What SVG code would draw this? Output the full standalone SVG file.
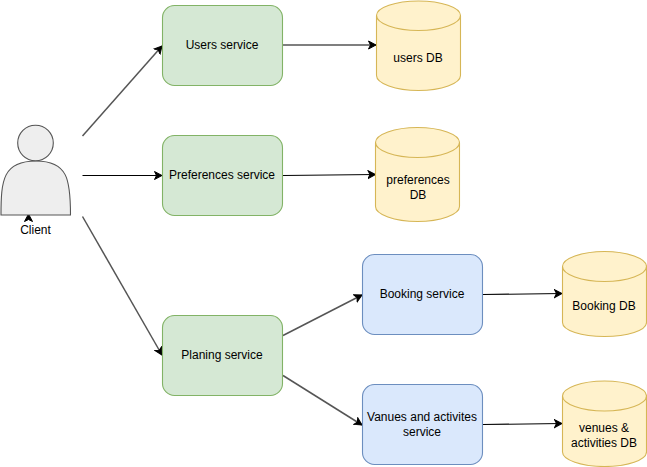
<svg xmlns="http://www.w3.org/2000/svg" width="647" height="467" viewBox="0 0 647 467">
<defs>
<marker id="a" markerUnits="userSpaceOnUse" markerWidth="10" markerHeight="10" refX="8" refY="5" orient="auto"><path d="M0.5 1 L8 5 L0.5 9 L2.5 5 Z" fill="#000" stroke="#000" stroke-width="1"/></marker>
<path id="lid" class="l" d="M0 15C0 23 19 30 42 30S84 23 84 15"/>
</defs>
<style>
text{font-family:"Liberation Sans",Arial,sans-serif;font-size:12px;text-anchor:middle;fill:#000}
.g{fill:#d5e8d4;stroke:#82b366;stroke-width:1.1}
.b{fill:#dae8fc;stroke:#6c8ebf;stroke-width:1.1}
.c{fill:#fff2cc;stroke:#d6b656;stroke-width:1.1}
.l{fill:none;stroke:#d6b656;stroke-width:1.1}
.k{fill:none;stroke:#000;stroke-width:1.1;marker-end:url(#a)}
.d{fill:none;stroke:#555;stroke-width:1.5;marker-end:url(#a)}
</style>
<rect width="647" height="467" fill="#fff"/>
<g id="connectors">
<path class="d" d="M82.500 136L162 46"/>
<path class="k" d="M82.500 175.500H162"/>
<path class="d" d="M82.500 216.500L162 355"/>
<path class="k" d="M283 45H376"/>
<path class="k" d="M283 175.500L375.500 174.500"/>
<path class="d" d="M283 335.500L362 295"/>
<path class="d" d="M283 375.500L362 425"/>
<path class="k" d="M483 294.500L562 293.500"/>
<path class="k" d="M483 424.500L562 423.500"/>
<path class="k" d="M28.500 216V214"/>
</g>
<g id="client"><path d="M1 215C1 180 3 161 36 161C68 161 70.500 180 70.500 215Z" fill="#eee" stroke="#555" stroke-width="1.100"/><circle cx="35.500" cy="143" r="17.800" fill="#eee" stroke="#555" stroke-width="1.100"/><text x="35.500" y="234">Client</text></g>
<g id="users"><rect class="g" x="162.500" y="5.500" width="120" height="80" rx="12"/><text x="222" y="49">Users service</text></g>
<g id="preferences"><rect class="g" x="162.500" y="135.500" width="120" height="80" rx="12"/><text x="222" y="179">Preferences service</text></g>
<g id="planing"><rect class="g" x="162.500" y="315.500" width="120" height="80" rx="12"/><text x="222" y="359">Planing service</text></g>
<g id="booking"><rect class="b" x="362.500" y="254.500" width="120" height="80" rx="12"/><text x="422" y="298">Booking service</text></g>
<g id="venues"><rect class="b" x="362.500" y="384.500" width="120" height="80" rx="12"/><text x="422" y="421">Vanues and activites</text><text x="422" y="436">service</text></g>
<g id="usersdb"><path class="c" d="M376.500 15.500C376.500 7.500 395.500 1 418.500 1S460.500 7.500 460.500 15.500V75.500C460.500 83.500 441.500 90.500 418.500 90.500S376.500 83.500 376.500 75.500Z"/><use href="#lid" x="376.500" y="0.500"/><text x="418" y="62">users DB</text></g>
<g id="preferencesdb"><path class="c" d="M375.500 142.500C375.500 134.500 394.500 127.500 417.500 127.500S459.500 134.500 459.500 142.500V206.500C459.500 214.500 440.500 221.500 417.500 221.500S375.500 214.500 375.500 206.500Z"/><use href="#lid" x="375.500" y="127.500"/><text x="418" y="184">preferences</text><text x="418" y="199">DB</text></g>
<g id="bookingdb"><path class="c" d="M562.500 266.500C562.500 258.500 581.500 251.500 604.500 251.500S646.500 258.500 646.500 266.500V322.500C646.500 330.500 627.500 336.500 604.500 336.500S562.500 330.500 562.500 322.500Z"/><use href="#lid" x="562.500" y="251.500"/><text x="604" y="310">Booking DB</text></g>
<g id="venuesdb"><path class="c" d="M562.500 396C562.500 388 581.500 381 604.500 381S646.500 388 646.500 396V452C646.500 460 627.500 466.500 604.500 466.500S562.500 460 562.500 452Z"/><use href="#lid" x="562.500" y="381"/><text x="604" y="432">venues &amp;</text><text x="604" y="447">activities DB</text></g>
</svg>
